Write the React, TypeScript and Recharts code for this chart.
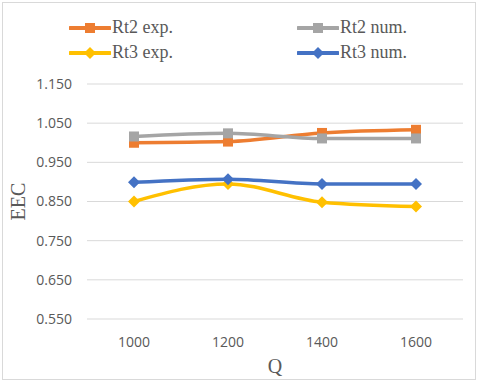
import { CartesianGrid, Line, LineChart, XAxis, YAxis, Label } from "recharts";

const categories = ["1000", "1200", "1400", "1600"];
const rt2Exp = [1.0, 1.003, 1.025, 1.033];
const rt2Num = [1.016, 1.024, 1.011, 1.011];
const rt3Exp = [0.85, 0.895, 0.848, 0.837];
const rt3Num = [0.899, 0.907, 0.895, 0.895];
const yTicks = [0.55, 0.65, 0.75, 0.85, 0.95, 1.05, 1.15];

const data = categories.map((q, i) => ({
  q,
  rt2Exp: rt2Exp[i],
  rt2Num: rt2Num[i],
  rt3Exp: rt3Exp[i],
  rt3Num: rt3Num[i],
}));

const series = [
  { key: "rt2Exp", name: "Rt2 exp.", color: "#ED7D31", shape: "square" },
  { key: "rt2Num", name: "Rt2 num.", color: "#A5A5A5", shape: "square" },
  { key: "rt3Exp", name: "Rt3 exp.", color: "#FFC000", shape: "diamond" },
  { key: "rt3Num", name: "Rt3 num.", color: "#4472C4", shape: "diamond" },
];

const tickStyle = { fill: "#595959", fontSize: 14, fontFamily: "'Open Sans', sans-serif" };

function Marker({ cx, cy, color, shape }: { cx?: number; cy?: number; color: string; shape: string }) {
  if (cx == null || cy == null) return null;
  if (shape === "square") {
    return <rect x={cx - 5} y={cy - 5} width={10} height={10} fill={color} />;
  }
  return <path d={`M${cx},${cy - 6}L${cx + 6},${cy}L${cx},${cy + 6}L${cx - 6},${cy}Z`} fill={color} />;
}

function LegendItem({ name, color, shape }: { name: string; color: string; shape: string }) {
  return (
    <div style={{ display: "flex", alignItems: "center" }}>
      <svg width={42} height={14}>
        <line x1={1} y1={7} x2={41} y2={7} stroke={color} strokeWidth={4} strokeLinecap="round" />
        <Marker cx={21} cy={7} color={color} shape={shape} />
      </svg>
      <span style={{ marginLeft: 1, fontFamily: "'Liberation Serif', serif" }}>{name}</span>
    </div>
  );
}

export default function App() {
  return (
    <div style={{ position: "absolute", left: 0, top: 0, width: 480, height: 383, background: "#fff" }}>
      <div
        style={{
          position: "absolute",
          left: 2,
          top: 2,
          width: 472,
          height: 376,
          border: "1px solid #d9d9d9",
        }}
      />
      <div
        style={{
          position: "absolute",
          left: 69,
          top: 17,
          display: "grid",
          gridTemplateColumns: "228px 160px",
          rowGap: 4,
          fontSize: 18,
          color: "#595959",
          lineHeight: "21px",
        }}
      >
        {series.map((s) => (
          <LegendItem key={s.key} name={s.name} color={s.color} shape={s.shape} />
        ))}
      </div>
      <LineChart width={480} height={383} data={data} margin={{ top: 84, right: 17, bottom: 34, left: 0 }}>
        <CartesianGrid vertical={false} stroke="#d9d9d9" />
        <XAxis
          dataKey="q"
          height={30}
          padding={{ left: 47, right: 47 }}
          axisLine={false}
          tickLine={false}
          tickSize={0}
          tickMargin={18}
          tick={tickStyle}
        >
          <Label
            value="Q"
            position="bottom"
            offset={10}
            style={{ fill: "#595959", fontSize: 20, fontFamily: "'Liberation Serif', serif" }}
          />
        </XAxis>
        <YAxis
          width={87}
          domain={[0.55, 1.15]}
          ticks={yTicks}
          tickFormatter={(v: number) => v.toFixed(3)}
          axisLine={false}
          tickLine={false}
          tickSize={0}
          tickMargin={15}
          tick={tickStyle}
        >
          <Label
            value="EEC"
            angle={-90}
            position="insideLeft"
            offset={18}
            style={{ fill: "#595959", fontSize: 20, fontFamily: "'Liberation Serif', serif", textAnchor: "middle" }}
          />
        </YAxis>
        {series.map((s) => (
          <Line
            key={s.key}
            type="monotone"
            dataKey={s.key}
            name={s.name}
            stroke={s.color}
            strokeWidth={3.5}
            dot={(p: any) => <Marker key={`${s.key}-${p.index}`} cx={p.cx} cy={p.cy} color={s.color} shape={s.shape} />}
            isAnimationActive={false}
          />
        ))}
      </LineChart>
    </div>
  );
}
